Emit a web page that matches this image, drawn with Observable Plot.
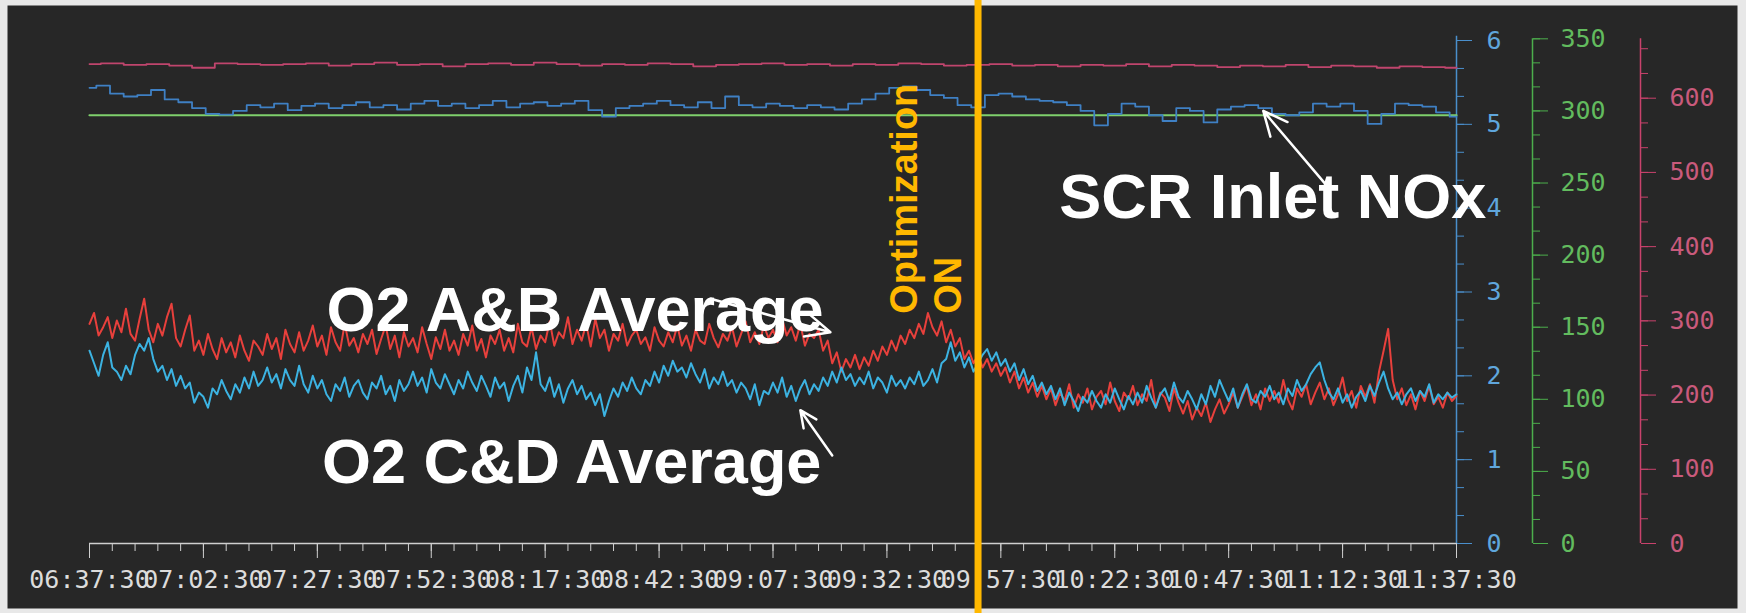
<!DOCTYPE html>
<html>
<head>
<meta charset="utf-8">
<script src="https://cdn.jsdelivr.net/npm/d3@7"></script>
<script src="https://cdn.jsdelivr.net/npm/@observablehq/plot@0.6"></script>
<style>
  html, body { margin: 0; padding: 0; background: #e8e8e8; overflow: hidden; }
</style>
</head>
<body>
<div id="chart"></div>
<script>
// ---------- DATA ----------
const startTime = "06:37:30";
const xTickLabels = ["06:37:30","07:02:30","07:27:30","07:52:30","08:17:30","08:42:30","09:07:30",
                     "09:32:30","09:57:30","10:22:30","10:47:30","11:12:30","11:37:30"];
const blueTicks = [0, 1, 2, 3, 4, 5, 6];            // O2 %
const greenTicks = [0, 50, 100, 150, 200, 250, 300, 350];
const redTicks = [0, 100, 200, 300, 400, 500, 600];
const blueMax = 6, greenMax = 350, redMax = 680;

// O2 A&B Average, one value per minute from 06:37:30
const o2ABAverage = [
  2.62,2.75,2.48,2.58,2.70,2.45,2.66,2.52,2.80,2.50,
  2.42,2.68,2.92,2.55,2.40,2.62,2.48,2.70,2.86,2.45,
  2.35,2.55,2.72,2.30,2.42,2.25,2.50,2.32,2.20,2.45,
  2.28,2.40,2.22,2.48,2.30,2.18,2.42,2.35,2.25,2.50,
  2.32,2.45,2.20,2.55,2.38,2.28,2.52,2.30,2.42,2.60,
  2.35,2.48,2.25,2.58,2.40,2.30,2.62,2.36,2.45,2.28,
  2.50,2.38,2.55,2.26,2.44,2.60,2.32,2.48,2.22,2.52,
  2.35,2.45,2.28,2.58,2.38,2.20,2.46,2.32,2.55,2.30,
  2.42,2.25,2.50,2.36,2.60,2.30,2.44,2.22,2.48,2.38,
  2.55,2.30,2.45,2.28,2.62,2.40,2.35,2.58,2.32,2.48,
  2.40,2.65,2.36,2.52,2.45,2.70,2.38,2.55,2.42,2.62,
  2.35,2.68,2.45,2.55,2.30,2.50,2.42,2.62,2.36,2.48,
  2.55,2.38,2.46,2.30,2.58,2.42,2.35,2.52,2.40,2.60,
  2.36,2.48,2.30,2.55,2.42,2.38,2.62,2.45,2.34,2.50,
  2.42,2.58,2.35,2.50,2.65,2.40,2.52,2.38,2.60,2.45,
  2.55,2.40,2.68,2.48,2.58,2.42,2.62,2.36,2.50,2.45,
  2.55,2.30,2.42,2.15,2.28,2.05,2.20,2.10,2.25,2.08,
  2.22,2.12,2.30,2.18,2.35,2.25,2.42,2.30,2.48,2.38,
  2.55,2.45,2.62,2.50,2.75,2.58,2.48,2.65,2.40,2.55,
  2.35,2.45,2.20,2.30,2.15,2.25,2.10,2.20,2.05,2.15,
  2.00,2.10,1.92,2.05,1.85,1.98,1.80,1.92,1.75,1.88,
  1.72,1.85,1.65,1.80,1.70,1.90,1.62,1.78,1.68,1.85,
  1.60,1.75,1.82,1.66,1.92,1.70,1.58,1.80,1.72,1.88,
  1.65,1.78,1.70,1.95,1.62,1.80,1.74,1.58,1.85,1.68,
  1.55,1.70,1.48,1.62,1.52,1.68,1.45,1.60,1.72,1.55,
  1.66,1.80,1.62,1.75,1.88,1.65,1.78,1.60,1.85,1.70,
  1.82,1.68,1.95,1.72,1.60,1.85,1.75,1.90,1.66,1.80,
  1.92,1.72,1.85,1.65,1.78,1.98,1.70,1.82,1.62,1.88,
  1.75,1.90,1.68,2.05,2.30,2.56,1.95,1.72,1.85,1.65,
  1.78,1.60,1.82,1.70,1.88,1.66,1.75,1.62,1.80,1.70,1.76
];

// O2 C&D Average, one value per minute from 06:37:30
const o2CDAverage = [
  2.30,2.15,2.00,2.25,2.40,2.10,2.05,1.95,2.12,2.02,
  2.25,2.38,2.30,2.45,2.20,2.05,2.12,1.95,2.08,1.88,
  2.00,1.85,1.92,1.68,1.80,1.75,1.62,1.85,1.78,1.95,
  1.82,1.72,1.90,1.80,1.98,1.85,2.05,1.88,1.95,2.10,
  1.92,2.02,1.85,2.08,1.95,1.88,2.12,1.90,1.80,2.00,
  1.85,1.95,1.78,1.70,1.90,1.82,1.98,1.75,1.88,1.95,
  1.80,1.72,1.92,1.85,2.00,1.78,1.88,1.70,1.95,1.82,
  1.90,2.05,1.88,1.98,1.80,2.08,1.92,1.85,2.02,1.90,
  1.78,1.95,1.85,2.05,1.92,1.82,2.00,1.88,1.75,1.98,
  1.85,1.92,1.70,1.88,2.00,1.80,2.10,1.95,2.28,1.90,
  1.82,1.98,1.75,1.90,1.68,1.85,1.95,1.78,1.88,1.72,
  1.80,1.65,1.78,1.52,1.70,1.85,1.75,1.92,1.82,1.98,
  1.85,1.78,1.95,1.88,2.05,1.92,2.12,2.00,2.18,2.05,
  2.10,1.98,2.15,2.02,1.92,2.08,1.85,1.98,1.90,2.05,
  1.88,1.95,1.80,1.92,1.85,1.72,1.90,1.65,1.82,1.78,
  1.92,1.80,1.98,1.75,1.88,1.70,1.85,1.95,1.78,1.90,
  1.82,1.98,1.88,2.05,1.92,2.10,1.95,2.02,1.88,1.98,
  1.90,2.05,1.85,1.98,1.92,1.80,2.00,1.88,1.95,1.85,
  1.98,1.90,2.05,1.88,1.95,2.08,1.92,2.15,2.20,2.40,
  2.18,2.28,2.10,2.22,2.05,2.15,2.25,2.32,2.18,2.28,
  2.12,2.20,2.05,2.15,1.95,2.08,1.90,2.00,1.82,1.92,
  1.78,1.88,1.72,1.85,1.65,1.80,1.70,1.58,1.75,1.68,
  1.82,1.70,1.62,1.78,1.68,1.85,1.72,1.60,1.76,1.66,
  1.80,1.68,1.88,1.74,1.62,1.78,1.85,1.70,1.92,1.75,
  1.68,1.82,1.72,1.60,1.78,1.66,1.88,1.75,1.95,1.82,
  1.70,1.85,1.62,1.78,1.90,1.72,1.68,1.82,1.75,1.88,
  1.72,1.80,1.66,1.85,1.76,1.95,1.82,1.90,2.02,2.10,
  2.16,1.95,1.80,1.72,1.85,1.68,1.78,1.62,1.75,1.82,
  1.70,1.88,1.76,1.92,2.05,1.85,1.72,1.80,1.66,1.78,
  1.85,1.70,1.82,1.75,1.90,1.68,1.78,1.72,1.80,1.74,1.78
];

// SCR Inlet NOx (green axis), one value every 3 minutes
const scrInletNOx = [
  316,317.5,312,310,311,314.5,308,306,302,298,
  297.5,300,304,302.5,305,300.5,303.5,305,302,304,
  306,302.5,304,301,305,307,303.5,305,302,304,
  307,302.5,305,306,303.5,305,307,300.5,296,302,
  303.5,305,307,304,302.5,306,302,310,304,302.5,
  305,303.5,302,304,302.5,301,305,308,312,316,
  317,314.5,311,309,304,302.5,311,312,310,308,
  307,306,304,300,290,298,305,303,297,293,
  302,300,292,301,303,304,302,298,297,299,
  305,303,305,300,291,298,305,304,303,299,
  296
];

// Top red trace (red axis), one value every 5 minutes
const topRedTrace = [
  646,647,645,646,644,641,647,646,645,646,
  647,644,646,648,645,646,643,646,647,645,
  648,646,644,646,645,647,646,643,645,646,
  647,645,646,644,646,645,647,646,644,645,
  646,644,645,643,645,644,646,643,645,644,
  642,644,643,645,642,644,643,641,643,642,
  641
];

// Green reference line (green axis)
const greenLineMinutes = [0, 300];
const greenLineValues = [297, 297];

const optimizationOnMinute = 195;

const labels = [
  {text: "O2 A&B Average", minute: 52.0, value: 3.07},
  {text: "O2 C&D Average", minute: 51.0, value: 1.25},
  {text: "SCR Inlet NOx", minute: 212.8, value: 4.42}
];
const optLabel = [{text: "Optimization\nON", minute: 174.7, value: 2.74}];
const arrows = [
  {m1: 271.2, v1: 4.29, m2: 257.6, v2: 5.16},
  {m1: 136.3, v1: 2.92, m2: 162.6, v2: 2.52},
  {m1: 163.0, v1: 1.05, m2: 156.0, v2: 1.59}
];

// ---------- BUILD ----------
const parseT = d3.utcParse("%H:%M:%S");
const fmtT = d3.utcFormat("%H:%M:%S");
const t0 = parseT(startTime);
const at = m => new Date(+t0 + m * 60000);
const xTicks = xTickLabels.map(parseT);
const xEnd = xTicks[xTicks.length - 1];
const minorX = d3.range(0, 301, 5).map(at);

const topY = 6.02; // top of green and red axes in O2 units
const g2b = v => v * topY / greenMax;
const r2b = v => v * topY / redMax;

const abData = o2ABAverage.map((v, i) => ({time: at(i), value: v}));
const cdData = o2CDAverage.map((v, i) => ({time: at(i), value: v}));
const noxData = scrInletNOx.map((v, i) => ({time: at(i * 3), value: g2b(v)}));
const topRedData = topRedTrace.map((v, i) => ({time: at(i * 5), value: r2b(v)}));
const greenData = greenLineMinutes.map((m, i) => ({time: at(m), value: g2b(greenLineValues[i])}));

const blueMinor = d3.range(0, 19).map(i => i / 3);
const greenMinor = d3.range(0, 22).map(i => g2b(i * 50 / 3));
const redMinor = d3.range(0, 21).map(i => r2b(i * 100 / 3));

const MONO = "'DejaVu Sans Mono', monospace";
const SANS = "'Liberation Sans', Arial, sans-serif";
const AXIS_GREY = "#cfcfcf";
const BLUE = "#4a8fcc", BLUE_T = "#5fa6dc";
const GREEN = "#4cae4c", GREEN_T = "#62bb5e";
const RED = "#c9426c", RED_T = "#c95a7c";
const ORANGE = "#FFB800";

const chart = Plot.plot({
  width: 1746, height: 613,
  marginLeft: 89, marginRight: 290, marginTop: 38, marginBottom: 70,
  style: {background: "#e8e8e8", overflow: "visible"},
  x: {type: "utc", domain: [xTicks[0], xEnd]},
  y: {domain: [0, blueMax], range: [543, 40]},
  marks: [
    Plot.frame({fill: "#272727", stroke: "none", insetLeft: -82, insetRight: -281, insetTop: -33, insetBottom: -65}),

    // x axis
    Plot.ruleY([0], {stroke: AXIS_GREY, strokeWidth: 1.5}),
    Plot.axisX({ticks: minorX, tickSize: 8, stroke: AXIS_GREY, fill: "none", label: null}),
    Plot.axisX({ticks: xTicks, tickSize: 15, tickPadding: 12, tickFormat: fmtT, stroke: AXIS_GREY,
                fill: "#dcdcdc", fontSize: 25, fontFamily: MONO, label: null}),

    // blue axis (O2)
    Plot.ruleX([xEnd], {y1: 0, y2: 6.05, stroke: BLUE, strokeWidth: 1.5}),
    Plot.axisY({anchor: "right", ticks: blueMinor, tickSize: 7, stroke: BLUE, fill: "none", label: null}),
    Plot.axisY({anchor: "right", ticks: blueTicks, tickSize: 15, tickPadding: 15, stroke: BLUE,
                fill: BLUE_T, fontSize: 25, fontFamily: MONO, tickFormat: d => String(d), label: null}),

    // green axis
    Plot.ruleX([xEnd], {dx: 76, y1: 0, y2: g2b(greenMax), stroke: GREEN, strokeWidth: 1.5}),
    Plot.axisY({anchor: "right", dx: 76, ticks: greenMinor, tickSize: 7, stroke: GREEN, fill: "none", label: null}),
    Plot.axisY({anchor: "right", dx: 76, ticks: greenTicks.map(g2b), tickSize: 15, tickPadding: 13, stroke: GREEN,
                fill: GREEN_T, fontSize: 25, fontFamily: MONO, label: null,
                tickFormat: d => String(Math.round(d * greenMax / topY))}),

    // red axis
    Plot.ruleX([xEnd], {dx: 184, y1: 0, y2: r2b(redMax), stroke: RED, strokeWidth: 1.5}),
    Plot.axisY({anchor: "right", dx: 184, ticks: redMinor, tickSize: 7, stroke: RED, fill: "none", label: null}),
    Plot.axisY({anchor: "right", dx: 184, ticks: redTicks.map(r2b), tickSize: 15, tickPadding: 14, stroke: RED,
                fill: RED_T, fontSize: 25, fontFamily: MONO, label: null,
                tickFormat: d => String(Math.round(d * redMax / topY))}),

    // series
    Plot.line(topRedData, {x: "time", y: "value", stroke: "#c0456d", strokeWidth: 1.8, curve: "step"}),
    Plot.line(greenData, {x: "time", y: "value", stroke: "#7fd06c", strokeWidth: 2.2}),
    Plot.line(noxData, {x: "time", y: "value", stroke: "#3f80c4", strokeWidth: 1.8, curve: "step"}),
    Plot.line(abData, {x: "time", y: "value", stroke: "#e8403c", strokeWidth: 2}),
    Plot.line(cdData, {x: "time", y: "value", stroke: "#3cb3e2", strokeWidth: 2}),

    // annotations
    Plot.text(labels, {x: d => at(d.minute), y: "value", text: "text", textAnchor: "start", lineAnchor: "top",
                       fontSize: 63, fontWeight: "bold", fontFamily: SANS, fill: "#ffffff"}),
    Plot.arrow(arrows, {x1: d => at(d.m1), y1: "v1", x2: d => at(d.m2), y2: "v2", bend: 0,
                        stroke: "#ffffff", strokeWidth: 2.5, headLength: 16, headAngle: 50}),
    Plot.text(optLabel, {x: d => at(d.minute), y: "value", text: "text", rotate: -90, textAnchor: "start",
                         lineAnchor: "top", lineHeight: 1.16, fontSize: 38, fontWeight: "bold",
                         fontFamily: SANS, fill: ORANGE}),
    Plot.ruleX([at(optimizationOnMinute)], {stroke: ORANGE, strokeWidth: 7, insetTop: -38, insetBottom: -70})
  ]
});

document.getElementById("chart").append(chart);
</script>
</body>
</html>
